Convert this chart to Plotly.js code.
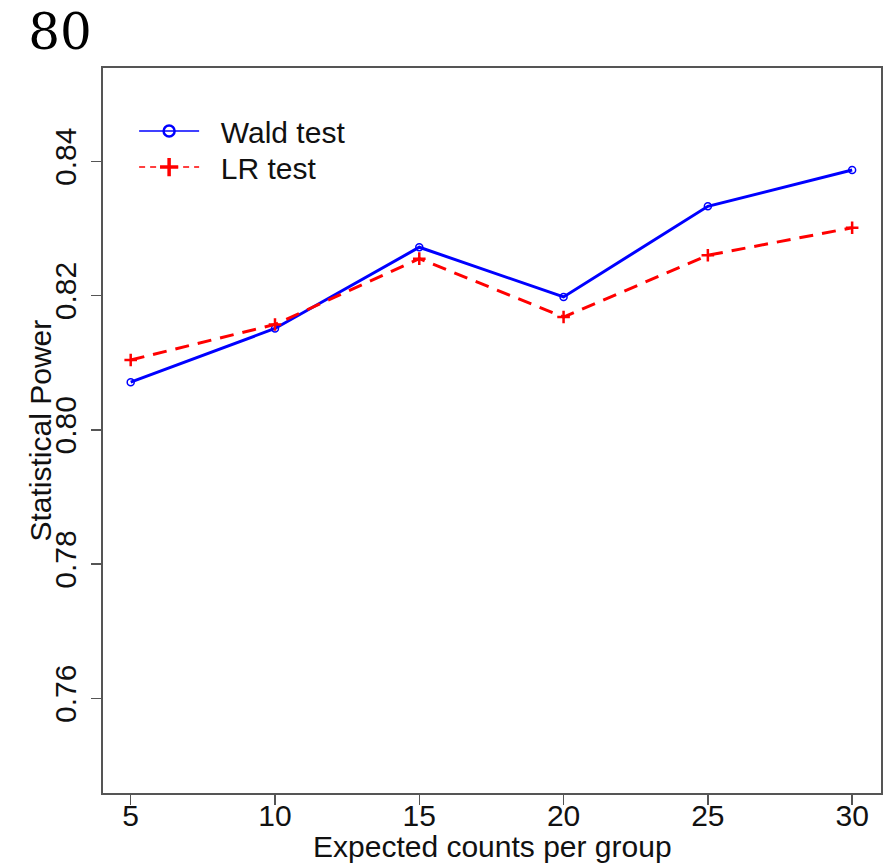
<!DOCTYPE html>
<html>
<head>
<meta charset="utf-8">
<script src="https://cdn.plot.ly/plotly-3.0.1.min.js"></script>
<style>html,body{margin:0;padding:0;background:#fff;}#chart{width:885px;height:863px;}</style>
</head>
<body>
<div id="chart"></div>
<script>
var counts = [5, 10, 15, 20, 25, 30];
var waldPower = [0.8071, 0.8151, 0.8272, 0.8198, 0.8333, 0.8387];
var lrPower = [0.8104, 0.8157, 0.8255, 0.8168, 0.8260, 0.8301];
var xTicks = [5, 10, 15, 20, 25, 30];
var yTicks = [0.76, 0.78, 0.80, 0.82, 0.84];
var yTickText = ['0.76', '0.78', '0.80', '0.82', '0.84'];
var xTitle = 'Expected counts per group';
var yTitle = 'Statistical Power';
var seriesNames = ['Wald test', 'LR test'];

var pad = '\u00a0\u00a0';
var traces = [
  {x: counts, y: waldPower, type: 'scatter', mode: 'lines+markers', name: seriesNames[0], showlegend: false,
   line: {color: '#0000ff', width: 3}, marker: {symbol: 'circle-open', size: 7, color: '#0000ff', line: {width: 1.5}}},
  {x: counts, y: lrPower, type: 'scatter', mode: 'lines+markers', name: seriesNames[1], showlegend: false,
   line: {color: '#ff0000', width: 3, dash: '14px,9px'}, marker: {symbol: 'cross-thin-open', size: 9, color: '#ff0000', line: {width: 2.5, color: '#ff0000'}}},
  {x: [null], y: [null], type: 'scatter', mode: 'lines+markers', name: pad + seriesNames[0], legend: 'legend',
   line: {color: '#0000ff', width: 1.5}, marker: {symbol: 'circle-open', size: 11, color: '#0000ff', line: {width: 2.5}}},
  {x: [null], y: [null], type: 'scatter', mode: 'lines+markers', name: pad + seriesNames[1], legend: 'legend2',
   line: {color: '#ff0000', width: 1.5, dash: '6px,5px'}, marker: {symbol: 'cross-thin-open', size: 13, color: '#ff0000', line: {width: 3.5, color: '#ff0000'}}}
];

var axisFont = {family: 'Liberation Sans, Arial, sans-serif', size: 30, color: '#111'};
var legendBase = {xanchor: 'left', yanchor: 'middle', bgcolor: 'rgba(0,0,0,0)', borderwidth: 0, font: axisFont, itemwidth: 60};

var layout = {
  width: 885, height: 863,
  paper_bgcolor: '#fff', plot_bgcolor: '#fff',
  margin: {l: 103, r: 4, t: 68, b: 70, pad: 0},
  title: {text: '80', font: {family: 'DejaVu Serif, serif', size: 50, color: '#000'},
          xref: 'container', x: 0.032, xanchor: 'left', yref: 'container', y: 0.963, yanchor: 'middle'},
  xaxis: {
    range: [4.04, 31.0], tickmode: 'array', tickvals: xTicks, ticktext: xTicks.map(String),
    showgrid: false, zeroline: false, showline: true, mirror: true, linecolor: '#555', linewidth: 2,
    ticks: 'outside', ticklen: 10, tickwidth: 1.5, tickcolor: '#555',
    tickfont: axisFont, ticklabelstandoff: -15
  },
  yaxis: {
    range: [0.7459, 0.8539], tickmode: 'array', tickvals: yTicks, ticktext: yTickText,
    tickangle: -90,
    showgrid: false, zeroline: false, showline: true, mirror: true, linecolor: '#555', linewidth: 2,
    ticks: 'outside', ticklen: 10, tickwidth: 1.5, tickcolor: '#555',
    tickfont: axisFont, ticklabelstandoff: 3
  },
  annotations: [
    {text: xTitle, xref: 'paper', yref: 'paper', x: 0.5, y: -0.0738, xanchor: 'center', yanchor: 'middle',
     showarrow: false, font: axisFont},
    {text: yTitle, xref: 'paper', yref: 'paper', x: -0.0797, y: 0.5, xanchor: 'center', yanchor: 'middle',
     textangle: -90, showarrow: false, font: axisFont}
  ],
  legend: Object.assign({}, legendBase, {x: 0.040, y: 0.9130}),
  legend2: Object.assign({}, legendBase, {x: 0.040, y: 0.8634}),
  showlegend: true
};

Plotly.newPlot('chart', traces, layout, {displayModeBar: false, staticPlot: true});
</script>
</body>
</html>
